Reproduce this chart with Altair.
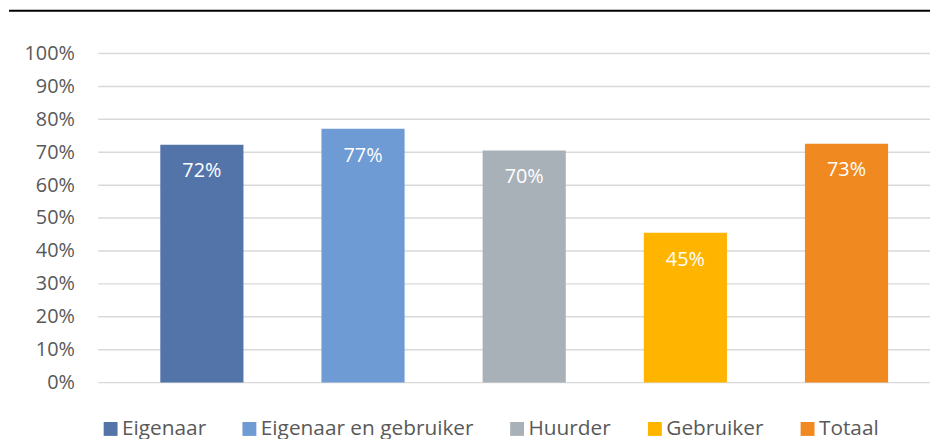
import altair as alt
import pandas as pd

categories = ["Eigenaar", "Eigenaar en gebruiker", "Huurder", "Gebruiker", "Totaal"]
values = [0.723, 0.771, 0.705, 0.455, 0.726]
labels = ["72%", "77%", "70%", "45%", "73%"]
colors = ["#5374A9", "#6E9BD3", "#A9B1B8", "#FFB500", "#F0891F"]
ticks = [0.0, 0.1, 0.2, 0.3, 0.4, 0.5, 0.6, 0.7, 0.8, 0.9, 1.0]

df = pd.DataFrame({"cat": categories, "val": values, "lab": labels})
grid_df = pd.DataFrame({"t": ticks})

FONT = "Open Sans"

xscale = alt.Scale(domain=categories, paddingInner=0.484, paddingOuter=0.3226, align=0.597)
yscale = alt.Scale(domain=[0, 1])
yaxis = alt.Axis(format=".0%", values=ticks, title=None, domain=False, ticks=False,
                 grid=False, labelOverlap=False, labelPadding=24, labelFont=FONT,
                 labelFontSize=20, labelColor="#595959")
xaxis = alt.Axis(labels=False, ticks=False, domain=False, title=None, grid=False)
color = alt.Color(
    "cat:N",
    scale=alt.Scale(domain=categories, range=colors),
    legend=alt.Legend(
        title=None, orient="none", direction="horizontal", legendX=2, legendY=368,
        symbolType="square", symbolSize=196, symbolStrokeWidth=0, labelOffset=1,
        columnPadding=33, labelFont=FONT, labelFontSize=21, labelColor="#595959",
        labelLimit=400, columns=5,
    ),
)

grid = alt.Chart(grid_df).mark_rule(color="#D9D9D9", strokeWidth=1.5).encode(
    y=alt.Y("t:Q", scale=yscale, axis=yaxis),
    x=alt.value(0),
    x2=alt.value(860),
)

base = alt.Chart(df)

bars = base.mark_bar().encode(
    x=alt.X("cat:N", sort=categories, scale=xscale, axis=xaxis),
    y=alt.Y("val:Q", scale=yscale, axis=yaxis),
    color=color,
)

text = base.mark_text(baseline="middle", align="center", dy=27, color="white",
                      font=FONT, fontSize=20).encode(
    x=alt.X("cat:N", sort=categories, scale=xscale, axis=xaxis),
    y=alt.Y("val:Q", scale=yscale, axis=yaxis),
    text="lab:N",
)

topline = alt.Chart(pd.DataFrame({"a": [0]})).mark_rule(color="black", strokeWidth=2).encode(
    x=alt.value(-90), x2=alt.value(860), y=alt.value(-43)
)

chart = alt.layer(grid, bars, text, topline).properties(
    width=839, height=332,
    autosize=alt.AutoSizeParams(type="none"),
    padding={"left": 91, "top": 44, "right": 0, "bottom": 55},
).configure_view(stroke=None).configure_axis(grid=False).configure_axisY(labelOverlap=False)

chart.save("out.html", embed_options={"renderer": "svg", "actions": False})
